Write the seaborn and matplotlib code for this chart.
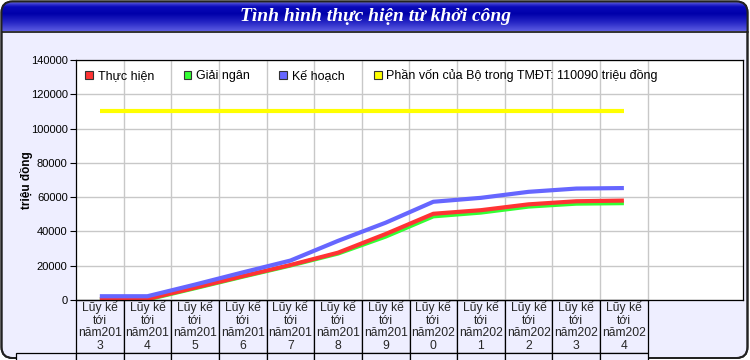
import numpy as np
import pandas as pd
import matplotlib
matplotlib.use("Agg")
import matplotlib.pyplot as plt
import seaborn as sns
from matplotlib.patches import FancyBboxPatch, Patch
from matplotlib.table import Table

# ---------------- data ----------------
title = "Tình hình thực hiện từ khởi công"
ylabel = "triệu đồng"
categories = [
    "Lũy kế\ntới\nnăm201\n3", "Lũy kế\ntới\nnăm201\n4", "Lũy kế\ntới\nnăm201\n5",
    "Lũy kế\ntới\nnăm201\n6", "Lũy kế\ntới\nnăm201\n7", "Lũy kế\ntới\nnăm201\n8",
    "Lũy kế\ntới\nnăm201\n9", "Lũy kế\ntới\nnăm202\n0", "Lũy kế\ntới\nnăm202\n1",
    "Lũy kế\ntới\nnăm202\n2", "Lũy kế\ntới\nnăm202\n3", "Lũy kế\ntới\nnăm202\n4",
]
thuc_hien = [500, 600, 7200, 13900, 20400, 27600, 38500, 50300, 52400, 55800, 57600, 58000]
giai_ngan = [200, 300, 6900, 13600, 20100, 27100, 37000, 48800, 51000, 54500, 56200, 56500]
ke_hoach = [2200, 2200, 9000, 16100, 23000, 34500, 45100, 57300, 59600, 63100, 65000, 65300]
phan_von = [110090, 110090, 110090, 110090, 110090, 110090,
            110090, 110090, 110090, 110090, 110090, 110090]
series_names = ["Thực hiện", "Giải ngân", "Kế hoạch",
                "Phần vốn của Bộ trong TMĐT: 110090 triệu đồng"]
series_colors = ["#FF3333", "#33FF33", "#6666FF", "#FFFF00"]
yticks = [0, 20000, 40000, 60000, 80000, 100000, 120000, 140000]

df = pd.DataFrame({
    "cat": categories * 4,
    "value": thuc_hien + giai_ngan + ke_hoach + phan_von,
    "series": sum([[s] * len(categories) for s in series_names], []),
})

# ---------------- style ----------------
sns.set_theme(style="white")
plt.rcParams["font.family"] = ["Liberation Sans", "DejaVu Sans"]

W, H = 750, 360
fig = plt.figure(figsize=(7.5, 3.6), dpi=100)

# background / frame (pixel-based layout axes)
bg = fig.add_axes([0, 0, 1, 1])
bg.set_xlim(0, W)
bg.set_ylim(H, 0)
bg.axis("off")
lav = "#EEEEFF"
frame = FancyBboxPatch((1.5, 1.5), 746, 356.5,
                       boxstyle="round,pad=0,rounding_size=11",
                       fc=lav, ec="#222222", lw=1.4, zorder=1)
bg.add_patch(frame)
# title bar gradient
stops_y = [1.5, 4, 7, 14, 22, 31]
stops_c = np.array([[130, 130, 230], [60, 60, 210], [10, 10, 185],
                    [0, 0, 170], [35, 35, 195], [90, 90, 225]]) / 255.0
ys = np.linspace(1.5, 31, 60)
grad = np.stack([np.interp(ys, stops_y, stops_c[:, k]) for k in range(3)], axis=-1)
im = bg.imshow(grad[:, None, :], extent=[1.5, 747.5, 31, 1.5], aspect="auto",
               zorder=2, interpolation="bilinear")
im.set_clip_path(frame)
bg.plot([1.5, 747.5], [31.5, 31.5], color="#111111", lw=1.2, zorder=3)
bg.add_patch(FancyBboxPatch((1.5, 1.5), 746, 356.5,
                            boxstyle="round,pad=0,rounding_size=11",
                            fc="none", ec="#222222", lw=1.4, zorder=4))
bg.text(375, 16.5, title, ha="center", va="center", color="white",
        family=["Liberation Serif", "DejaVu Serif"], weight="bold",
        style="italic", fontsize=14, zorder=5)

# ---------------- main plot ----------------
L, T, R, B = 76, 60, 743, 300
ax = fig.add_axes([L / W, (H - B) / H, (R - L) / W, (B - T) / H])
ax.set_facecolor("white")
ax.set_zorder(5)

draw_order = [1, 0, 2, 3]
for i in draw_order:
    sub = df[df["series"] == series_names[i]]
    sns.lineplot(data=sub, x="cat", y="value", color=series_colors[i],
                 linewidth=3, ax=ax, sort=False, legend=False,
                 solid_capstyle="butt")

n = len(categories)
ax.set_xlim(-0.5, n + 1.5)
ax.set_xticks(np.arange(0.5, n, 1.0))
ax.set_xticklabels([])
ax.tick_params(axis="x", length=0, bottom=False)
ax.set_ylim(0, 140000)
ax.set_yticks(yticks)
ax.set_yticklabels([str(v) for v in yticks])
ax.tick_params(axis="y", left=True, length=4, width=0.8, color="black",
               labelsize=8, pad=2, labelcolor="black", direction="out")
ax.grid(True, color="#C8C8C8", lw=1)
ax.set_axisbelow(True)
for sp in ax.spines.values():
    sp.set_color("black")
    sp.set_linewidth(0.9)
ax.set_xlabel("")
ax.set_ylabel(ylabel, fontsize=8.5, weight="bold", color="black")
ax.yaxis.set_label_coords(-(L - 33) / (R - L), 0.5)

handles = [Patch(fc=c, ec="#333333", lw=0.8) for c in series_colors]
leg = ax.legend(handles, series_names, loc="upper left", bbox_to_anchor=(0, 1),
                ncol=4, frameon=False, fontsize=9, handlelength=0.6,
                handleheight=0.6, handletextpad=0.4, columnspacing=2.35,
                borderaxespad=0.3, borderpad=0.45)
for t in leg.get_texts():
    t.set_color("black")

# ---------------- category table ----------------
pw = R - L
ph = B - T
colw = 1.0 / (n + 2)
rlw = 60.0 / pw
h1 = 53.0 / ph
h2 = 14.0 / ph
tb = Table(ax, bbox=[0, -(h1 + h2), n * colw, h1 + h2])
for i, lab in enumerate(categories):
    c = tb.add_cell(0, i, width=colw, height=h1, text=lab, loc="center",
                    facecolor=lav, edgecolor="black")
    c.set_linewidth(0.9)
    c.get_text().set_linespacing(1.08)
    c2 = tb.add_cell(1, i, width=colw, height=h2, text="", facecolor=lav,
                     edgecolor="black")
    c2.set_linewidth(0.9)
c3 = tb.add_cell(1, -1, width=rlw, height=h2, text="", facecolor=lav,
                 edgecolor="black")
c3.set_linewidth(0.9)
tb.auto_set_font_size(False)
tb.set_fontsize(8.7)
ax.add_table(tb)

fig.savefig("out.png", dpi=100)
